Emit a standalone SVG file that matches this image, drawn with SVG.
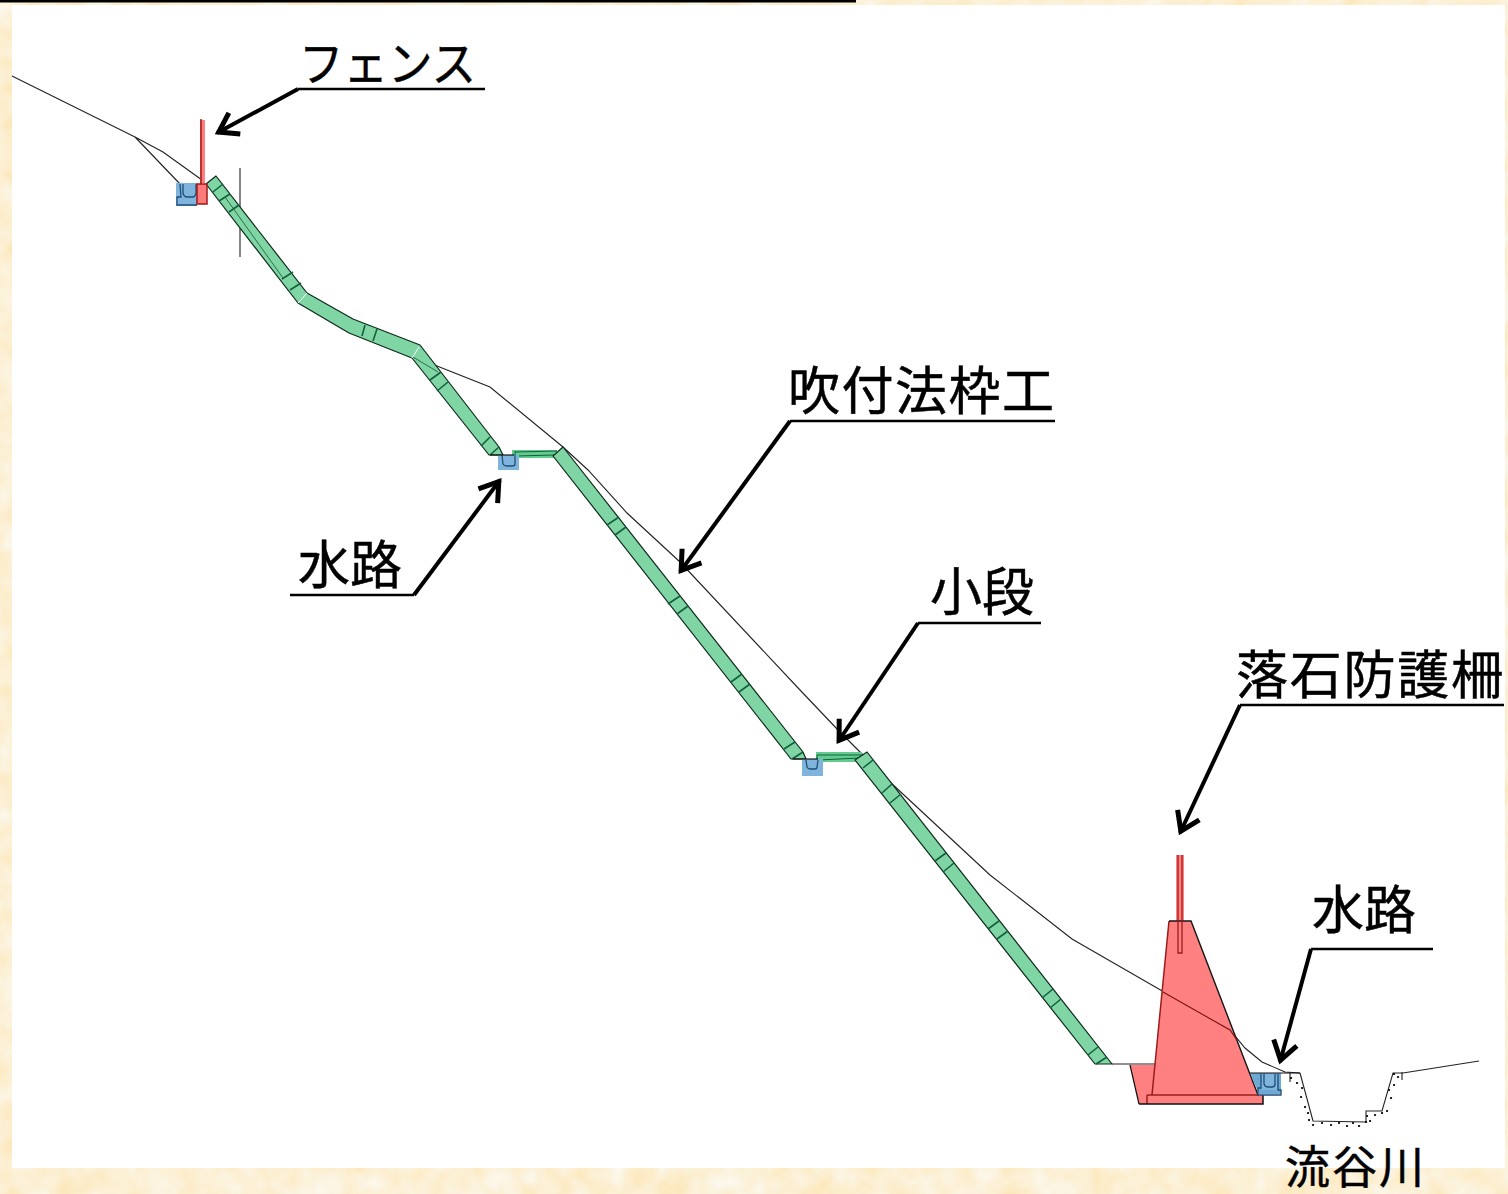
<svg xmlns="http://www.w3.org/2000/svg" width="1508" height="1194" viewBox="0 0 1508 1194">
<style>
text{font-family:"Noto Sans CJK JP","Noto Sans",sans-serif;fill:#000;stroke:#000;stroke-width:.5;font-size:52px}
.lead{fill:none;stroke:#000;stroke-width:2.5}
.arrow{fill:none;stroke:#000;stroke-width:4;marker-end:url(#ah)}
.ter{fill:none;stroke:#222;stroke-width:1.1}
.gr{fill:#7fd6a4;stroke:#0d2a1a;stroke-width:1.2;stroke-linejoin:round}
.tick{stroke:#14603c;stroke-width:1.6;fill:none}
.bench{fill:#62cc90;stroke:none}
.chan{fill:none;stroke:#1f4e79;stroke-width:1.3}
.blue{fill:#7fb5dd}
.red{fill:#ff8080}
.dk{fill:none;stroke:#9c1c1c;stroke-width:1.5}
</style>
<defs>
<marker id="ah" markerUnits="userSpaceOnUse" markerWidth="30" markerHeight="30" refX="25" refY="15" viewBox="0 0 30 30" orient="auto"><path d="M5 3L23 15L5 27" fill="none" stroke="#000" stroke-width="5" stroke-linejoin="miter"/></marker>
<filter id="paper" x="0" y="0" width="100%" height="100%" color-interpolation-filters="sRGB"><feTurbulence type="fractalNoise" baseFrequency="0.035" numOctaves="3" seed="4"/><feColorMatrix type="matrix" values="0 0 0 0 0.99  0.1 0 0 0 0.89  0.3 0 0 0 0.68  0 0 0 0 1"/></filter>
</defs>
<rect width="1508" height="1194" fill="#fdf1dc" filter="url(#paper)"/>
<rect x="12" y="5" width="1493" height="1163" fill="#fff"/>
<rect x="0" y="0" width="856" height="2.5" fill="#000"/>

<g id="terrain">
<path class="ter" d="M12 76L135 137L163 152L202 180M135 137L180 184"/>
<path class="ter" d="M240 168V257"/>
<path class="ter" d="M413 357L437 366L490 387L563 447L588 470L627 513L680 562L800 690L838 730L868 760L890 782L990 875L1072 939L1230 1030L1245 1048L1262 1062L1285 1072L1300 1073"/>
<path class="ter" d="M1112 1064H1155" stroke-width="1.4"/>
<path class="ter" d="M1300 1073L1313 1121L1366 1122V1111H1382L1393 1073H1403L1479 1061M1290 1073V1082M1402 1072V1080"/>
<path id="dots" fill="none" stroke="#000" stroke-width="2.2" stroke-linecap="round" d="M1291 1078h.1M1297 1083h.1M1302 1088h.1M1301 1097h.1M1305 1107h.1M1308 1113h.1M1309 1120h.1M1313 1125h.1M1322 1123h.1M1331 1125h.1M1339 1123h.1M1347 1126h.1M1353 1123h.1M1359 1126h.1M1366 1122h.1M1370 1121h.1M1367 1116h.1M1375 1115h.1M1382 1113h.1M1387 1111h.1M1391 1098h.1M1389 1090h.1M1394 1085h.1M1398 1077h.1M1394 1074h.1"/>
</g>

<g id="slope-1">
<path class="gr" d="M206 184L216 176L307 293L353 319L420 345L499 447L503 455H489L412 358L349 333L298 303Z"/>
<path class="tick" d="M213 192L223 184M219 201L230 194M229 212L239 205M282 279L293 272M290 290L301 283M365 325L362 336M377 329L373 341M430 380L441 372M437 391L448 382M481 446L490 437M490 455L499 447"/>
<path d="M225 197L283 278M413 357L438 372" stroke="#2c6e4a" stroke-width="1" fill="none"/>
<path d="M298 303L307 293M412 358L419 347" stroke="#fff" stroke-width="1" fill="none"/>
</g>
<g id="bench-1">
<rect class="bench" x="512" y="450" width="45" height="8"/>
<path d="M515 452L557 451M515 456L555 455M515 451V457" fill="none" stroke="#12603a" stroke-width="1"/>
</g>
<g id="slope-2">
<path class="gr" d="M553 456L563 447L803 752L806 759H791Z"/>
<path class="tick" d="M607 525L619 517M615 535L626 527M668 604L680 596M677 614L688 606M731 682L742 674M739 692L750 684M784 749L795 742M792 759L803 752"/>
</g>
<g id="bench-2">
<rect class="bench" x="816" y="752" width="46" height="10"/>
<path d="M817 755H862M818 760L860 758M817 755V760" fill="none" stroke="#12603a" stroke-width="1"/>
</g>
<g id="slope-3">
<path class="gr" d="M855 760L867 752L1112 1064H1095Z"/>
<path class="tick" d="M863 768L873 760M882 793L892 784M890 803L901 794M935 861L946 853M943 872L954 863M988 929L999 921M997 939L1008 931M1042 998L1053 989M1050 1008L1061 999M1088 1055L1098 1047M1096 1064L1107 1057"/>
</g>

<g id="drain-1">
<rect class="blue" x="176" y="183" width="21" height="23"/>
<path class="chan" d="M180 184L181 197H177V205H197M183 184V193Q184 197 187 197H193Q195 197 196 193V184"/>
</g>
<g id="fence">
<rect x="200" y="120" width="5" height="63" fill="#ff8080"/>
<path d="M201 119V184" stroke="#a01818" stroke-width="1.500" fill="none"/>
<rect x="197" y="184" width="10" height="20" fill="#ff7b7b" stroke="#a01818" stroke-width="1.500"/>
</g>
<g id="drain-2">
<rect class="blue" x="498" y="455" width="21" height="15"/>
<path class="chan" d="M502 455L503 464Q504 466 507 466H512Q515 466 515 464V455"/>
<path d="M490 455H514" stroke="#111" stroke-width="1.200"/>
</g>
<g id="drain-3">
<rect class="blue" x="802" y="759" width="21" height="17"/>
<path class="chan" d="M806 760L807 767Q808 769 810 769H815Q817 769 817 767L818 760"/>
<path d="M793 759H818" stroke="#111" stroke-width="1.200"/>
</g>

<g id="rockfall-fence">
<path class="red" d="M1130 1065H1158L1150 1104H1139Z"/>
<path d="M1130 1065L1139 1104" fill="none" stroke="#111" stroke-width="1.200"/>
<path class="red" d="M1169 921H1191L1258 1095H1152Z"/>
<rect class="red" x="1147" y="1095" width="116" height="9"/>
<rect x="1176" y="855" width="8" height="66" fill="#ff8080"/>
<path class="dk" d="M1152 1095L1169 921M1147 1095H1258M1147 1095V1104"/>
<path d="M1169 921H1191L1258 1095" fill="none" stroke="#151515" stroke-width="1.400"/>
<path d="M1139 1104H1263V1095" fill="none" stroke="#111" stroke-width="1.500"/>
<path d="M1178 855V953H1182V855" fill="none" stroke="#9c1c1c" stroke-width="1.300"/>
<path d="M1163 992L1230 1030L1237 1040" fill="none" stroke="#7a1010" stroke-width="1.100"/>
</g>
<g id="drain-4">
<path d="M1250 1073H1281V1094H1259Z" fill="#6ea9d4"/>
<rect class="blue" x="1261" y="1074" width="16" height="16"/>
<path class="chan" stroke-width="1.500" d="M1261 1074V1088H1258V1095H1281V1090H1278V1074M1264 1074V1084Q1265 1087 1268 1087H1272Q1275 1087 1275 1084V1074"/>
<path d="M1250 1073H1300" stroke="#111" stroke-width="1.200"/>
</g>

<g id="connectors">
<path class="lead" d="M485 89H298"/><path class="arrow" d="M298 89L217 133"/>
<path class="lead" d="M1055 421H790"/><path class="arrow" d="M790 421L680 572"/>
<path class="lead" d="M290 595H414"/><path class="arrow" d="M414 595L500 480"/>
<path class="lead" d="M1041 623H918"/><path class="arrow" d="M918 623L838 742"/>
<path class="lead" d="M1504 705H1240"/><path class="arrow" d="M1240 705L1180 833"/>
<path class="lead" d="M1433 949H1311"/><path class="arrow" d="M1311 949L1280 1062"/>
</g>

<g id="labels">
<text x="299" y="81" style="font-size:48px" textLength="177" lengthAdjust="spacingAndGlyphs">フェンス</text>
<text x="788" y="410" textLength="266">吹付法枠工</text>
<text x="298" y="584">水路</text>
<text x="930" y="611">小段</text>
<text x="1236" y="694" textLength="267">落石防護柵</text>
<text x="1312" y="929">水路</text>
<text x="1285" y="1184" style="font-size:45px" textLength="139">流谷川</text>
</g>
</svg>
